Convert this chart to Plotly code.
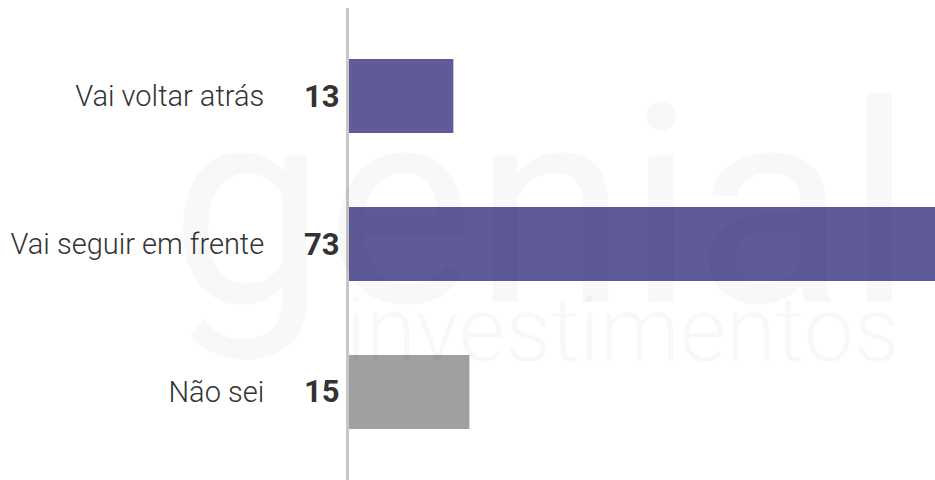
import plotly.graph_objects as go

categories = ["Vai voltar atrás", "Vai seguir em frente", "Não sei"]
values = [13, 73, 15]
colors = ["#5f5b98", "#5f5b98", "#a0a0a0"]

fig = go.Figure()
fig.add_trace(go.Bar(
    x=values, y=categories, orientation="h",
    marker=dict(color=colors, line=dict(width=0)),
    width=0.5, hoverinfo="skip",
))

# value labels
for c, v in zip(categories, values):
    fig.add_annotation(x=0, y=c, xref="x", yref="y", text=f"<b>{v}</b>",
                       xanchor="right", yanchor="middle", xshift=-7, showarrow=False,
                       font=dict(family="Roboto", size=31, color="#333333"))

# watermark
fig.add_annotation(x=0.966, y=0.578, xref="paper", yref="paper", text="genial",
                   xanchor="right", yanchor="middle", showarrow=False,
                   font=dict(family="Roboto", size=278, color="rgba(0,0,0,0.028)"))
fig.add_annotation(x=0.944, y=0.316, xref="paper", yref="paper", text="investimentos",
                   xanchor="right", yanchor="middle", showarrow=False,
                   font=dict(family="Roboto", size=90, color="rgba(0,0,0,0.028)", weight=300))

fig.update_layout(
    width=935, height=480,
    margin=dict(l=349, r=0, t=8, b=0),
    paper_bgcolor="white", plot_bgcolor="white",
    showlegend=False,
    xaxis=dict(range=[0, 73], visible=False, fixedrange=True),
    yaxis=dict(categoryorder="array", categoryarray=categories,
               range=[2.595, -0.595], showgrid=False, zeroline=False,
               showline=True, linecolor="#c6c6c6", linewidth=3,
               ticks="", ticklabelstandoff=76,
               tickfont=dict(family="Roboto", size=29, color="#333333", weight=300)),
)

fig.write_html("out.html", config={"displayModeBar": False},
               post_script="document.body.style.margin='0';document.body.style.overflow='hidden';")
